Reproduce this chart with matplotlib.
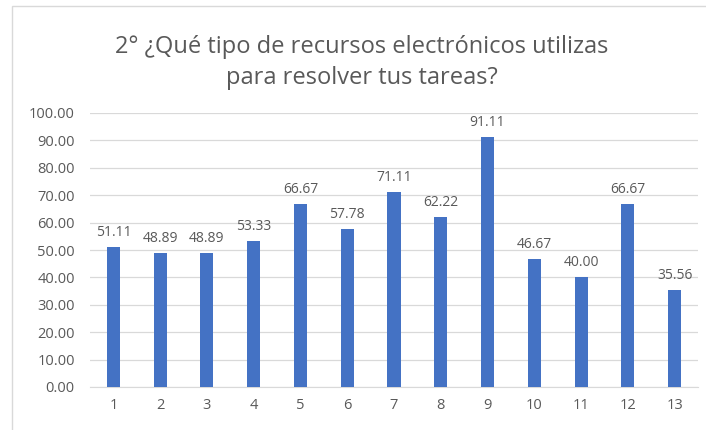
import matplotlib.pyplot as plt
from matplotlib.patches import Rectangle

# datos
categorias = [str(i) for i in range(1, 14)]
valores = [51.11, 48.89, 48.89, 53.33, 66.67, 57.78, 71.11, 62.22, 91.11, 46.67, 40.00, 66.67, 35.56]
titulo = '2° ¿Qué tipo de recursos electrónicos utilizas\npara resolver tus tareas?'

plt.rcParams['font.family'] = ['Open Sans', 'DejaVu Sans']
gris = '#595959'

fig = plt.figure(figsize=(7.06, 4.30), dpi=100)
fig.patches.append(Rectangle((12 / 706, -0.01), 1.0, 1 - 6 / 430 + 0.01, transform=fig.transFigure,
                             fill=False, edgecolor='#d9d9d9', linewidth=1))

ax = fig.add_axes([90 / 706, 43 / 430, 608 / 706, 274 / 430])
x = range(len(categorias))
barras = ax.bar(x, valores, width=0.28, color='#4472C4', zorder=3)
ax.bar_label(barras, labels=[f'{v:.2f}' for v in valores], padding=5, fontsize=10, color=gris)

ax.set_xlim(-0.5, len(categorias) - 0.5)
ax.set_ylim(0, 100)
ax.set_yticks(range(0, 101, 10))
ax.set_yticklabels([f'{v:.2f}' for v in range(0, 101, 10)])
ax.set_xticks(list(x))
ax.set_xticklabels(categorias)
ax.tick_params(axis='both', length=0, labelsize=10.5, colors=gris)
ax.tick_params(axis='x', pad=8)
ax.tick_params(axis='y', pad=11)
ax.yaxis.grid(True, color='#d9d9d9', linewidth=0.9, zorder=0)
for s in ['top', 'right', 'left']:
    ax.spines[s].set_visible(False)
ax.spines['bottom'].set_color('#d9d9d9')

fig.text(0.513, 0.918, titulo, ha='center', va='top', fontsize=17, color=gris, linespacing=1.35)

fig.savefig('out.png', dpi=100)
